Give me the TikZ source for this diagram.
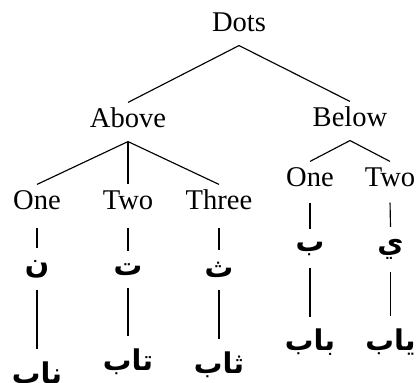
\documentclass[tikz,border=0pt]{standalone}
\usepackage{fontspec}
\setmainfont{Liberation Serif}
\newfontfamily\arabicfont[Script=Arabic]{DejaVu Sans}
\TeXXeTstate=1
\begin{document}
\begin{tikzpicture}[x=0.35pt, y=-0.35pt,
  lbl/.style={font=\fontsize{10}{12}\selectfont, text height=7pt, text depth=2.8pt,
              inner xsep=1pt, inner ysep=1.75pt, anchor=base},
  ar/.style={font=\arabicfont\bfseries\fontsize{10}{12}\selectfont,
             inner xsep=1pt, inner ysep=4.2pt, anchor=center},
  branch/.style={line width=0.4pt, draw=black},
  leafin/.style={branch, shorten <=1.4pt},
  leafinb/.style={branch, shorten <=0.7pt}]
  \useasboundingbox (0,0) rectangle (417,383);

  % inner levels
  \node[lbl] (dots)  at (239,32)  {Dots};
  \node[lbl] (above) at (128,128) {Above};
  \node[lbl] (below) at (350,127) {Below};

  % labels of the leaves
  \node[lbl] (a1) at (37,210)  {One};
  \node[lbl] (a2) at (128,210) {Two};
  \node[lbl] (a3) at (219,210) {Three};
  \node[lbl] (b1) at (310,187) {One};
  \node[lbl] (b2) at (390,187) {Two};

  % single letters
  \node[ar] (la1) at (37,269)    {\beginR ن\endR};
  \node[ar] (la2) at (128,269.5) {\beginR ت\endR};
  \node[ar] (la3) at (219,270)   {\beginR ث\endR};
  \node[ar] (lb1) at (310,248.5) {\beginR ب\endR};
  \node[ar] (lb2) at (390.5,249.5) {\beginR ي\endR};

  % words
  \node[ar] (wa1) at (37,374.5)  {\beginR ناب\endR};
  \node[ar] (wa2) at (128,361.5) {\beginR تاب\endR};
  \node[ar] (wa3) at (219,365)   {\beginR ثاب\endR};
  \node[ar] (wb1) at (310,342.5) {\beginR باب\endR};
  \node[ar] (wb2) at (390.5,342) {\beginR ياب\endR};

  % branches
  \draw[branch] (dots.south) -- (above.north);
  \draw[branch] (dots.south) -- (below.north);
  \draw[branch] (above.south) -- (a1.north);
  \draw[branch] (above.south) -- (a2.north);
  \draw[branch] (above.south) -- (a3.north);
  \draw[branch] (below.south) -- (b1.north);
  \draw[branch] (below.south) -- (b2.north);

  \draw[leafin] (a1.south) -- (la1.north);
  \draw[leafin] (a2.south) -- (la2.north);
  \draw[leafin] (a3.south) -- (la3.north);
  \draw[leafinb] (b1.south) -- (lb1.north);
  \draw[leafinb] (b2.south) -- (lb2.north);

  \draw[branch] (la1.south) -- (wa1.north);
  \draw[branch] (la2.south) -- (wa2.north);
  \draw[branch] (la3.south) -- (wa3.north);
  \draw[branch] (lb1.south) -- (wb1.north);
  \draw[branch] (lb2.south) -- (wb2.north);
\end{tikzpicture}
\end{document}
